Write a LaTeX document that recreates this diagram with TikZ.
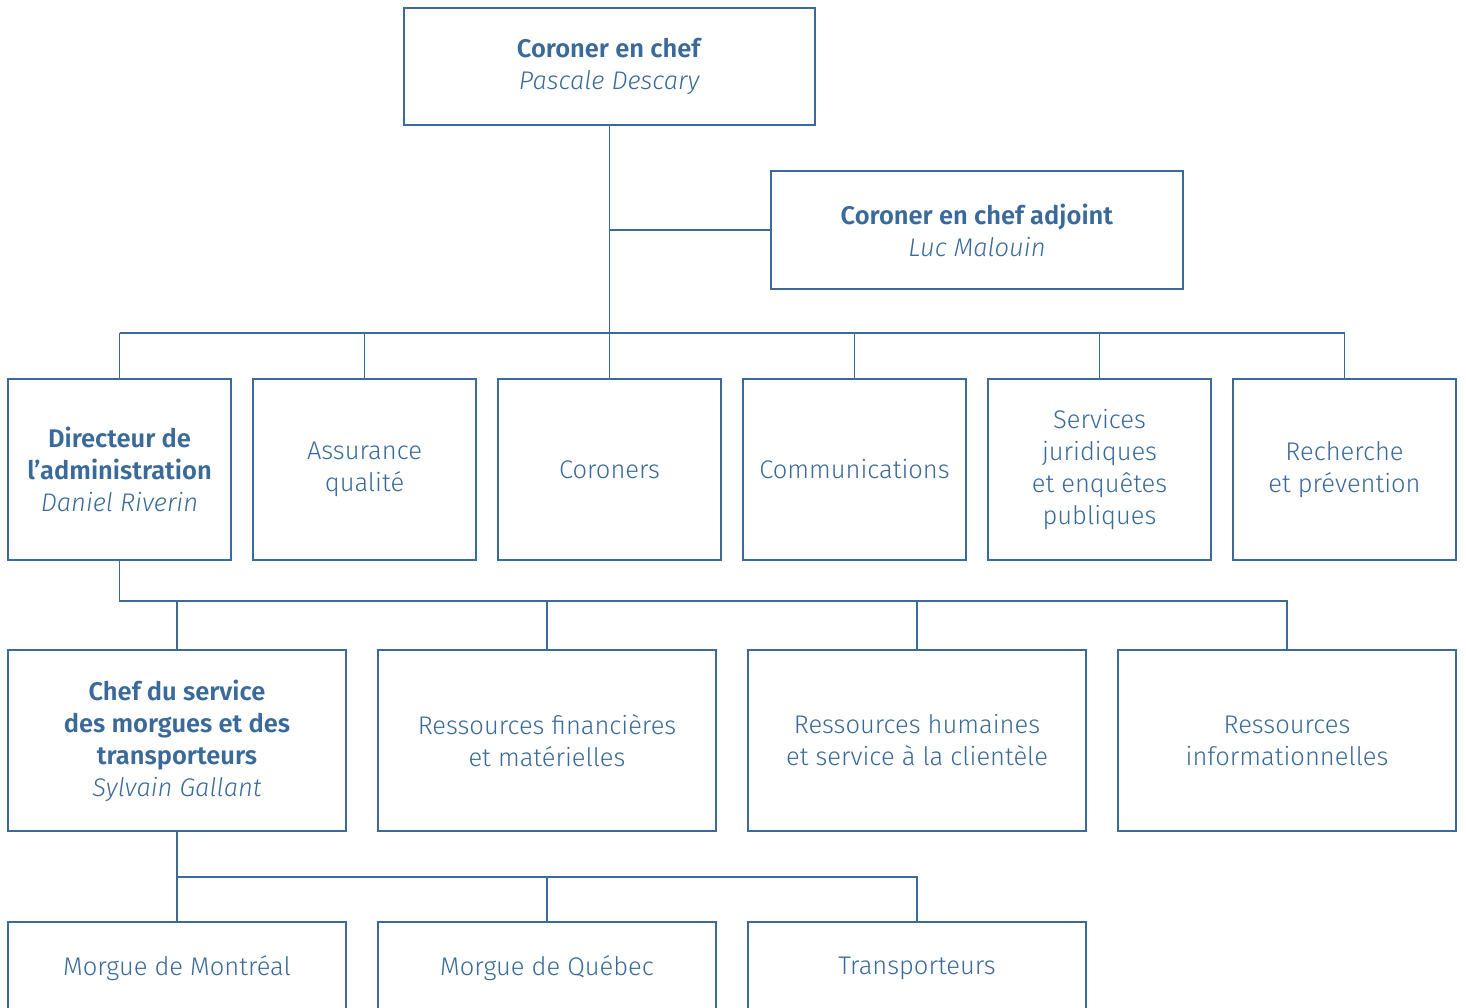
\documentclass[tikz,border=0pt]{standalone}
\usepackage{fontspec}
\setmainfont{Fira Sans Light}[BoldFont={Fira Sans SemiBold}, ItalicFont={Fira Sans Light Italic}, BoldItalicFont={Fira Sans SemiBold Italic}]
\definecolor{blu}{RGB}{58,106,154}
\begin{document}
\begin{tikzpicture}[x=1pt,y=-1pt,
  box/.style={draw=blu, line width=2.6pt, fill=white, inner sep=0pt, align=center,
    font=\fontsize{25.5}{32}\selectfont, text=blu},
  con/.style={draw=blu, line width=1.3pt}]
\clip (0,0) rectangle (1466,1007);
\fill[white] (0,0) rectangle (1466,1007);
% level 0/1
\node[box, minimum width=411pt, minimum height=117pt] (ceo) at (609.5,66.5) {\textbf{Coroner en chef}\\\textit{Pascale Descary}};
\node[box, minimum width=412pt, minimum height=118pt] (adj) at (977,230) {\textbf{Coroner en chef adjoint}\\\textit{Luc Malouin}};
% row 2
\foreach \n/\x/\t in {dir/119.5/{\textbf{Directeur de}\\\textbf{l’administration}\\\textit{Daniel Riverin}},
  aq/364.5/{Assurance\\qualité},
  cor/609.5/{Coroners},
  com/854.5/{Communications},
  sj/1099.5/{Services\\juridiques\\et enquêtes\\publiques},
  rp/1344.5/{Recherche\\et prévention}}
  \node[box, minimum width=223pt, minimum height=181pt] (\n) at (\x,469.5) {\t};
% row 3
\foreach \n/\x/\t in {chef/177/{\textbf{Chef du service}\\\textbf{des morgues et des}\\\textbf{transporteurs}\\\textit{Sylvain Gallant}},
  rf/547/{Ressources financières\\et matérielles},
  rh/917/{Ressources humaines\\et service à la clientèle},
  ri/1287/{Ressources\\informationnelles}}
  \node[box, minimum width=338pt, minimum height=181pt] (\n) at (\x,740.5) {\t};
% row 4
\foreach \n/\x/\t in {mm/177/{Morgue de Montréal},
  mq/547/{Morgue de Québec},
  tr/917/{Transporteurs}}
  \node[box, minimum width=338pt, minimum height=93pt] (\n) at (\x,968.5) {\t};
% buses
\coordinate (b1) at (0,333);
\coordinate (b2) at (0,601);
\coordinate (b3) at (0,877);
% connectors
\draw[con] (ceo.south) -- (cor.north);
\draw[con] (ceo.south |- adj.west) -- (adj.west);
\draw[con] (dir.north |- b1) -- (rp.north |- b1);
\foreach \n in {dir,aq,com,sj,rp} \draw[con] (\n.north) -- (\n.north |- b1);
\draw[con] (dir.south) -- (dir.south |- b2) -- (ri.north |- b2) -- (ri.north);
\foreach \n in {chef,rf,rh} \draw[con] (\n.north) -- (\n.north |- b2);
\draw[con] (chef.south) -- (mm.north);
\draw[con] (chef.south |- b3) -- (tr.north |- b3) -- (tr.north);
\draw[con] (mq.north) -- (mq.north |- b3);
\end{tikzpicture}
\end{document}
